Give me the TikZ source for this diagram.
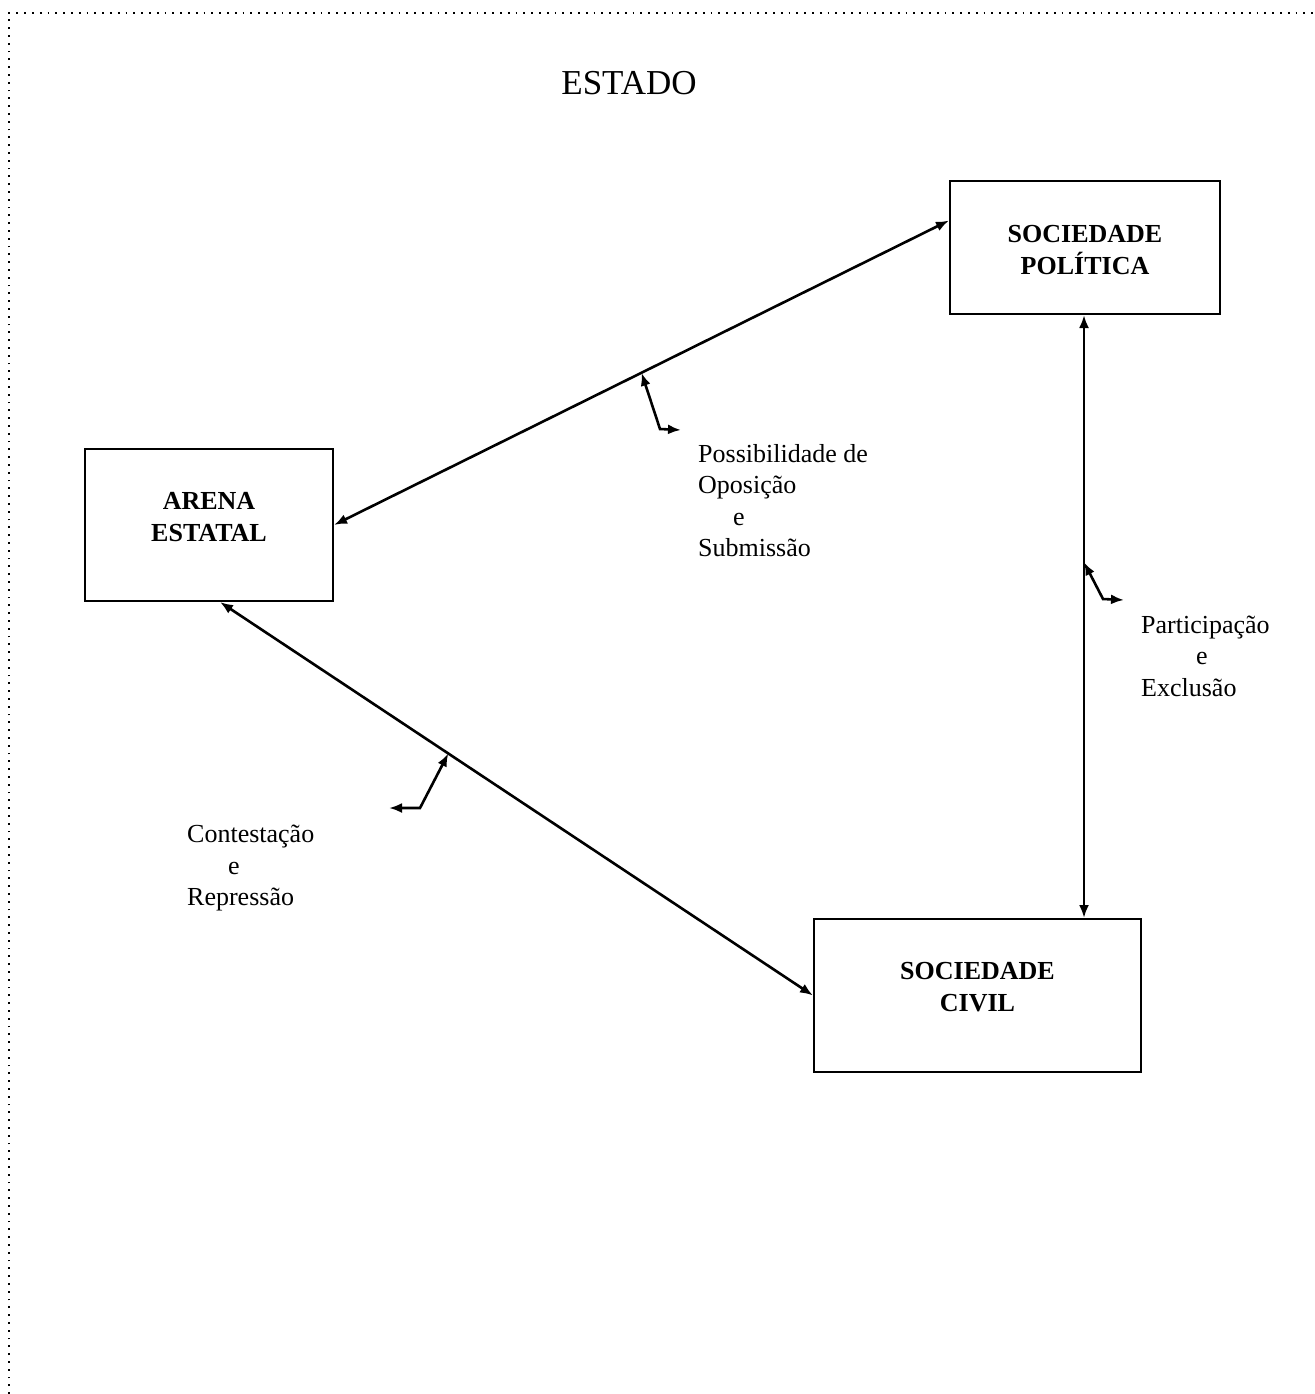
\documentclass[tikz,border=0pt]{standalone}
\usepackage{fontspec}
\setmainfont{Liberation Serif}
\usetikzlibrary{arrows.meta,calc}
\newcommand{\boxtext}[3]{\raisebox{#1}[0pt][0pt]{\begin{tabular}[t]{@{}c@{}}#2\\#3\end{tabular}}}
\begin{document}
\begin{tikzpicture}[x=1pt,y=-1pt,
  box/.style={draw,line width=2pt,inner sep=0pt,align=center,
    font=\bfseries\fontsize{26}{32}\selectfont},
  lbl/.style={inner sep=0pt,align=left,anchor=west,
    font=\fontsize{26}{31.5}\selectfont},
  conn/.style={line width=2.6pt,{Latex[length=13pt,width=10pt]}-{Latex[length=13pt,width=10pt]}},
  border/.style={line width=1.8pt,dash pattern=on 1.8pt off 6pt}]
\useasboundingbox (0,0) rectangle (1314,1394);
\draw[border] (9,1394) -- (9,13) -- (1314,13);
\node[font=\fontsize{35}{40}\selectfont,inner sep=0pt] (estado) at (629,83) {ESTADO};
\node[box,minimum width=270pt,minimum height=133pt] (sp) at (1085,247.5) {\boxtext{5.5pt}{SOCIEDADE}{POLÍTICA}};
\node[box,minimum width=248pt,minimum height=152pt] (ae) at (209,525) {\boxtext{15.4pt}{ARENA}{ESTATAL}};
\node[box,minimum width=327pt,minimum height=153pt] (sc) at (977.5,995.5) {\boxtext{15.9pt}{SOCIEDADE}{CIVIL}};
\draw[conn] (ae.east) -- coordinate[pos=0.5] (p1) ([yshift=27pt]sp.west);
\draw[conn] ([xshift=11pt]ae.south) -- coordinate[pos=0.385] (p2) (sc.west);
\draw[conn] ([xshift=-1pt]sp.south) -- coordinate[pos=0.41] (p3) ([xshift=-1pt]sp.south |- sc.north);
\coordinate (k1) at (660,429);
\coordinate (e1) at (681,430);
\coordinate (k2) at (420,808);
\coordinate (e2) at (389,808);
\coordinate (k3) at (1103,599);
\coordinate (e3) at (1124,600);
\draw[conn] (p1) -- (k1) -- (e1);
\draw[conn] (p2) -- (k2) -- (e2);
\draw[conn] (p3) -- (k3) -- (e3);
\node[lbl] (l1) at (698,500.5) {Possibilidade de\\Oposição\\\hspace*{35pt}e\\Submissão};
\node[lbl] (l2) at (1141,656) {Participação\\\hspace*{55pt}e\\Exclusão};
\node[lbl] (l3) at (187,868) {Contestação\\\hspace*{41pt}e\\Repressão};
\end{tikzpicture}
\end{document}
